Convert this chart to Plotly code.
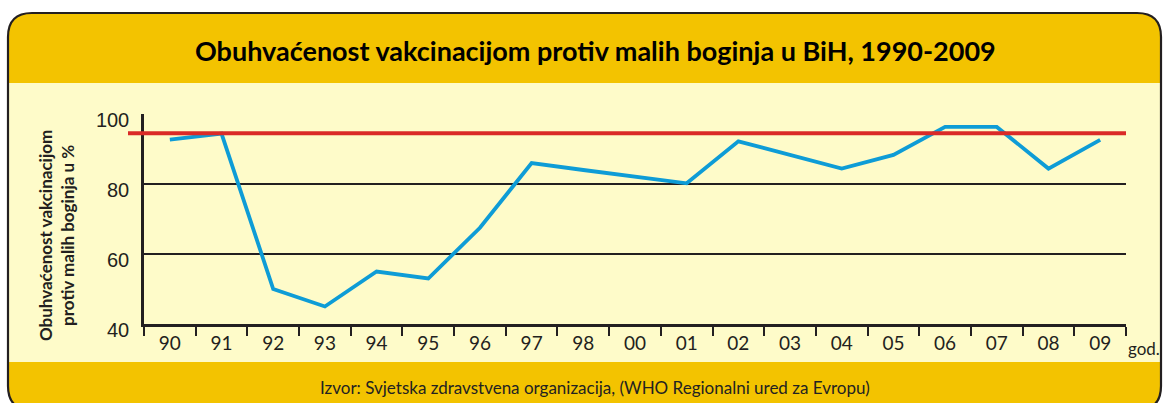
import plotly.graph_objects as go

# ---- data ----
years = ["90", "91", "92", "93", "94", "95", "96", "97", "98", "00",
         "01", "02", "03", "04", "05", "06", "07", "08", "09"]
coverage = [92.7, 94.4, 50.0, 45.0, 55.0, 53.0, 67.5, 86.0, 84.0, 82.0,
            80.2, 92.2, 88.3, 84.4, 88.3, 96.3, 96.3, 84.4, 92.6]
target = 94.5
y_ticks = [40, 60, 80, 100]

title_text = "Obuhvaćenost vakcinacijom protiv malih boginja u BiH, 1990-2009"
ytitle_text = "Obuhvaćenost vakcinacijom<br>protiv malih boginja u %"
source_text = "Izvor: Svjetska zdravstvena organizacija, (WHO Regionalni ured za Evropu)"
unit_text = "god."

# ---- layout helpers ----
W, H = 1164, 403
L, R, T, B = 144, 38, 114, 79
PW, PH = W - L - R, H - T - B

def px(x):
    return (x - L) / PW

def py(y):
    return (H - B - y) / PH

HEADER = "#F3C300"
BODY = "#FEFBC9"
DARK = "#231F20"
BLUE = "#0E9CD6"
RED = "#DA2A27"

def rounded_rect(x0, y0, x1, y1, r):
    pts = [
        f"M {px(x0 + r)},{py(y0)}",
        f"L {px(x1 - r)},{py(y0)}",
        f"Q {px(x1)},{py(y0)} {px(x1)},{py(y0 + r)}",
        f"L {px(x1)},{py(y1 - r)}",
        f"Q {px(x1)},{py(y1)} {px(x1 - r)},{py(y1)}",
        f"L {px(x0 + r)},{py(y1)}",
        f"Q {px(x0)},{py(y1)} {px(x0)},{py(y1 - r)}",
        f"L {px(x0)},{py(y0 + r)}",
        f"Q {px(x0)},{py(y0)} {px(x0 + r)},{py(y0)}",
        "Z",
    ]
    return " ".join(pts)

frame = rounded_rect(8, 13, 1161, 410, 24)

fig = go.Figure()
fig.add_trace(go.Scatter(
    x=years, y=coverage, mode="lines",
    line=dict(color=BLUE, width=3.8),
    hoverinfo="x+y", showlegend=False,
))

shapes = [
    dict(type="path", path=frame, xref="paper", yref="paper",
         fillcolor=HEADER, line=dict(width=0), layer="below"),
    dict(type="rect", xref="paper", yref="paper",
         x0=px(9), x1=px(1160), y0=py(362), y1=py(83),
         fillcolor=BODY, line=dict(width=0), layer="below"),
    dict(type="path", path=frame, xref="paper", yref="paper",
         fillcolor="rgba(0,0,0,0)", line=dict(color=DARK, width=2.2), layer="above"),
    dict(type="line", xref="paper", yref="y",
         x0=px(128), x1=1.0, y0=target, y1=target,
         line=dict(color=RED, width=4), layer="above"),
]

annotations = [
    dict(text=f"<b>{title_text}</b>", xref="paper", yref="paper",
         x=px(595), y=py(50), xanchor="center", yanchor="middle", showarrow=False,
         font=dict(family="Lato", size=27, color="#000000")),
    dict(text=source_text, xref="paper", yref="paper",
         x=px(595), y=py(387), xanchor="center", yanchor="middle", showarrow=False,
         font=dict(family="Lato", size=17, color="#222222")),
    dict(text=f"<b>{ytitle_text}</b>", xref="paper", yref="paper",
         x=px(56), y=py(236), xanchor="center", yanchor="middle", showarrow=False,
         textangle=-90,
         font=dict(family="Lato", size=17, color=DARK)),
    dict(text=unit_text, xref="paper", yref="paper",
         x=px(1144), y=py(348), xanchor="center", yanchor="middle", showarrow=False,
         font=dict(family="Lato", size=17, color=DARK)),
]

fig.update_layout(
    width=W, height=H,
    margin=dict(l=L, r=R, t=T, b=B, pad=0),
    paper_bgcolor="#FFFFFF",
    plot_bgcolor="rgba(0,0,0,0)",
    shapes=shapes,
    annotations=annotations,
    showlegend=False,
    xaxis=dict(
        type="category", categoryorder="array", categoryarray=years,
        range=[-0.5, len(years) - 0.5],
        showgrid=False, zeroline=False,
        showline=True, linecolor=DARK, linewidth=2.5,
        ticks="outside", tickson="boundaries", ticklen=9, tickwidth=1.6, tickcolor=DARK,
        tickfont=dict(family="Lato", size=19, color=DARK),
        fixedrange=True,
    ),
    yaxis=dict(
        range=[40, 100], tickvals=y_ticks,
        showgrid=True, gridcolor=DARK, gridwidth=1.6,
        zeroline=False,
        showline=True, linecolor=DARK, linewidth=2.5,
        ticks="", ticklabelstandoff=8, ticklabelshift=6,
        tickfont=dict(family="Liberation Sans", size=20, color=DARK),
        fixedrange=True,
    ),
)

fig.write_html(
    "out.html",
    config={"displayModeBar": False},
    post_script="document.body.style.margin='0';document.body.style.padding='0';",
)
